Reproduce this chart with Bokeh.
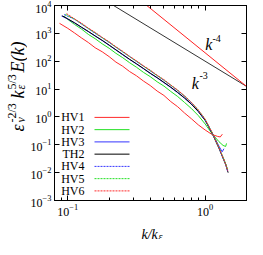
import math
from bokeh.plotting import figure
from bokeh.layouts import row, column
from bokeh.models import (Range1d, FixedTicker, LogAxis, Label, Arrow,
                          CustomJSTickFormatter)
from bokeh.embed import file_html
from bokeh.resources import INLINE

# ---------------- data ----------------
k_hv1 = [0.087, 0.100, 0.112, 0.126, 0.141, 0.158, 0.178, 0.200, 0.224, 0.251,
         0.282, 0.316, 0.355, 0.398, 0.447, 0.501, 0.562, 0.631, 0.708, 0.794,
         0.891, 1.000, 1.122, 1.230, 1.288, 1.334]
e_hv1 = [2290, 1510, 1030, 680, 470, 305, 218, 146, 93.0, 66.0,
         42.5, 30.0, 19.5, 13.4, 8.5, 5.9, 3.55, 2.32, 1.38, 0.86,
         0.52, 0.34, 0.234, 0.200, 0.191, 0.240]

k_hv2 = [0.094, 0.100, 0.112, 0.126, 0.141, 0.158, 0.178, 0.200, 0.224, 0.251,
         0.282, 0.316, 0.355, 0.398, 0.447, 0.501, 0.562, 0.631, 0.708, 0.794,
         0.891, 1.000, 1.122, 1.259, 1.350, 1.410, 1.430]
e_hv2 = [4170, 3160, 2090, 1420, 920, 645, 420, 292, 192, 134,
         88, 61, 40.0, 28.0, 18.3, 12.8, 8.2, 5.4, 3.3, 2.0,
         1.12, 0.56, 0.25, 0.13, 0.095, 0.087, 0.112]

k_hv3 = [0.090, 0.100, 0.112, 0.126, 0.141, 0.158, 0.178, 0.200, 0.224, 0.251,
         0.282, 0.316, 0.355, 0.398, 0.447, 0.501, 0.562, 0.631, 0.708, 0.794,
         0.891, 1.000, 1.122, 1.259, 1.330, 1.370]
e_hv3 = [4200, 3250, 2350, 1620, 1150, 800, 550, 372, 252, 170,
         115, 79.5, 54, 36.5, 25.2, 17.0, 11.4, 7.4, 4.7, 2.85,
         1.56, 0.75, 0.27, 0.090, 0.056, 0.072]

k_th2 = [0.091, 0.100, 0.112, 0.126, 0.141, 0.158, 0.178, 0.200, 0.224, 0.251,
         0.282, 0.316, 0.355, 0.398, 0.447, 0.501, 0.562, 0.631, 0.708, 0.794,
         0.891, 1.000, 1.122, 1.259, 1.413, 1.470]
e_th2 = [4270, 3310, 2400, 1660, 1175, 813, 562, 380, 257, 174,
         117, 81.3, 55.0, 37.2, 25.7, 17.4, 11.7, 7.59, 4.79, 2.88,
         1.58, 0.76, 0.263, 0.076, 0.019, 0.010]

k_hv4 = [0.094, 0.112, 0.126, 0.141, 0.158, 0.178, 0.200, 0.224, 0.251, 0.282,
         0.316, 0.355, 0.398, 0.447, 0.501, 0.562, 0.631, 0.708, 0.794, 0.891,
         1.000, 1.122, 1.259, 1.413, 1.462]
e_hv4 = [4700, 3200, 2150, 1480, 1000, 690, 470, 318, 214, 146,
         98, 67, 45, 30.5, 20.5, 13.6, 8.8, 5.5, 3.2, 1.72,
         0.80, 0.27, 0.078, 0.0195, 0.0105]

k_hv5 = [0.096, 0.112, 0.126, 0.141, 0.158, 0.178, 0.200, 0.224, 0.251, 0.282,
         0.316, 0.355, 0.398, 0.447, 0.501, 0.562, 0.631, 0.708, 0.794, 0.891,
         1.000, 1.122, 1.259, 1.413, 1.462]
e_hv5 = [4800, 3250, 2200, 1500, 1040, 700, 480, 320, 220, 146,
         100, 67, 46, 30.5, 21.0, 13.8, 9.0, 5.6, 3.3, 1.76,
         0.82, 0.28, 0.082, 0.021, 0.0125]

k_hv6 = [0.098, 0.112, 0.126, 0.141, 0.158, 0.178, 0.200, 0.224, 0.251, 0.282,
         0.316, 0.355, 0.398, 0.447, 0.501, 0.562, 0.631, 0.708, 0.794, 0.891,
         1.000, 1.122, 1.259, 1.413, 1.462]
e_hv6 = [5100, 3300, 2300, 1550, 1090, 720, 500, 330, 228, 150,
         104, 69, 48, 31.5, 21.8, 14.0, 9.2, 5.7, 3.35, 1.78,
         0.83, 0.28, 0.080, 0.020, 0.0115]

# reference power-law lines (end points)
k_ref = [0.08, 2.0]
e_ref3 = [195000, 12.5]
e_ref4 = [4880000, 12.5]

series_names = ["HV1", "HV2", "HV3", "TH2", "HV4", "HV5", "HV6"]
x_ticks = [0.1, 1.0]
x_minor = [0.08, 0.09, 0.2, 0.3, 0.4, 0.5, 0.6, 0.7, 0.8, 0.9, 2.0]
y_ticks = [1e-3, 1e-2, 1e-1, 1e0, 1e1, 1e2, 1e3, 1e4]

SERIF = "Liberation Serif"

# ---------------- main figure ----------------
p = figure(width=220, height=219, x_axis_type="log", y_axis_type="log",
           x_range=Range1d(0.08, 2.0), y_range=Range1d(1e-3, 1e4),
           output_backend="svg", toolbar_location=None, title=None,
           min_border_left=22, min_border_right=1, min_border_top=5,
           min_border_bottom=19)
p.grid.visible = False
p.outline_line_color = "black"
p.outline_line_width = 1
p.background_fill_color = "white"
p.border_fill_color = "white"


def style_axis(ax, show_labels):
    ax.axis_line_color = "black"
    ax.major_tick_in = 5
    ax.major_tick_out = 0
    ax.minor_tick_in = 3
    ax.minor_tick_out = 0
    ax.major_tick_line_color = "black"
    ax.minor_tick_line_color = "black"
    ax.major_label_text_font = SERIF
    ax.major_label_text_font_size = "12px"
    ax.major_label_text_color = "black"
    ax.major_label_standoff = 3
    if not show_labels:
        ax.formatter = CustomJSTickFormatter(code="return ''")
        ax.major_label_standoff = 0
        ax.major_label_text_font_size = "0px"


p.xaxis.ticker = FixedTicker(ticks=x_ticks, minor_ticks=x_minor)
p.yaxis.ticker = FixedTicker(ticks=y_ticks, minor_ticks=[])
for ax in p.xaxis + p.yaxis:
    style_axis(ax, True)

top_ax = LogAxis(ticker=FixedTicker(ticks=x_ticks, minor_ticks=x_minor))
right_ax = LogAxis(ticker=FixedTicker(ticks=y_ticks, minor_ticks=[]))
style_axis(top_ax, False)
style_axis(right_ax, False)
p.add_layout(top_ax, "above")
p.add_layout(right_ax, "right")

# ---------------- curves ----------------
p.line(k_ref, e_ref3, line_color="#333333", line_width=1)
p.line(k_ref, e_ref4, line_color="#ff2020", line_width=1)

RED, GREEN, BLUE = "#ff2a2a", "#22e022", "#3535ff"
specs = [
    (k_hv1, e_hv1, RED, "solid"),
    (k_hv2, e_hv2, GREEN, "solid"),
    (k_hv3, e_hv3, BLUE, "solid"),
    (k_th2, e_th2, "black", "solid"),
    (k_hv4, e_hv4, BLUE, "2 1"),
    (k_hv5, e_hv5, GREEN, "2 1"),
    (k_hv6, e_hv6, RED, "2 1"),
]
for kk, ee, col, dash in specs:
    p.line(kk, ee, line_color=col, line_width=1, line_dash=dash)

# ---------------- legend (label left, sample right) ----------------
for i, (name, spec) in enumerate(zip(series_names, specs)):
    fy = 83.1 - 12.25 * i
    p.add_layout(Label(x=30, y=fy, x_units="screen", y_units="screen",
                       text=name, text_font=SERIF, text_font_size="12px",
                       text_align="right", text_baseline="middle",
                       text_color="black"))
    p.add_layout(Arrow(x_start=40, y_start=fy, x_end=75, y_end=fy,
                       start_units="screen", end_units="screen", end=None,
                       line_color=spec[2], line_width=1, line_dash=spec[3]))


def lab(fig, x, y, t, size, style="italic", units="data", angle=0.0):
    fig.add_layout(Label(x=x, y=y, x_units=units, y_units=units, text=t,
                         text_font=SERIF, text_font_size=size,
                         text_font_style=style, text_color="black",
                         text_align="left", text_baseline="alphabetic",
                         angle=angle))


# power-law annotations
lab(p, 1.0, 385, "k", "16px")
lab(p, 1.13, 663, "-4", "10px", "normal")
lab(p, 0.80, 16, "k", "16px")
lab(p, 0.91, 29.9, "-3", "10px", "normal")


# ---------------- axis titles in their own blank panels ----------------
def blank(w, h):
    f = figure(width=w, height=h, x_range=(0, 1), y_range=(0, 1),
               x_axis_location=None, y_axis_location=None, title=None,
               output_backend="svg", toolbar_location=None,
               min_border=0)
    f.grid.visible = False
    f.outline_line_color = None
    f.background_fill_color = "white"
    f.border_fill_color = "white"
    return f


yl = blank(27, 219)
R = math.pi / 2
lab(yl, 17, 69, "ε", "18px", units="screen", angle=R)
lab(yl, 20.5, 78, "ν", "12px", units="screen", angle=R)
lab(yl, 11, 78, "-2/3", "12px", "normal", units="screen", angle=R)
lab(yl, 17, 102, "k", "18px", units="screen", angle=R)
lab(yl, 20.5, 111, "ε", "12px", units="screen", angle=R)
lab(yl, 11, 111, "5/3", "12px", "normal", units="screen", angle=R)
lab(yl, 17, 128, "E(k)", "18px", units="screen", angle=R)

xl = blank(247, 20)
lab(xl, 141, 5, "k/k", "14px", units="screen")
lab(xl, 158, 3, "ε", "10px", units="screen")

layout = column(row(yl, p, spacing=0), xl, spacing=0)

open("out.html", "w").write(file_html(layout, INLINE))
